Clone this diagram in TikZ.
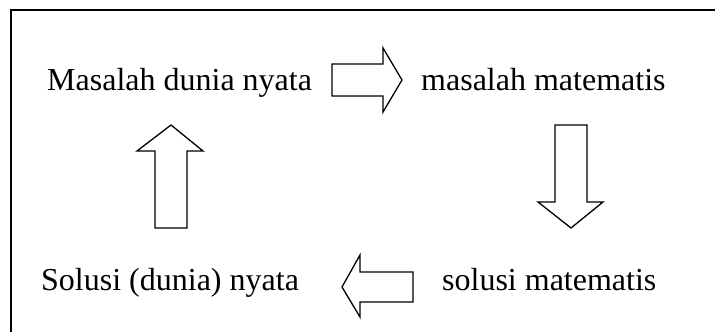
\documentclass[tikz,border=0pt]{standalone}
\usepackage{fontspec}
\setmainfont{Liberation Serif}
\begin{document}
\begin{tikzpicture}[x=1pt,y=-1pt,
  label/.style={anchor=base west,inner sep=0pt,font=\fontsize{32}{38}\selectfont},
  blockarrow/.style={draw=black,line width=1.3pt,line join=miter,fill=white}]
\useasboundingbox (0,0) rectangle (715,332);
\draw[line width=1.6pt] (715,10) -- (11,10) -- (11,332);
\node[label] (mdn) at (47,90) {Masalah dunia nyata};
\node[label] (mm) at (421,90) {masalah matematis};
\node[label] (sdn) at (41,290) {Solusi (dunia) nyata};
\node[label] (sm) at (442,290) {solusi matematis};
\draw[blockarrow] (332,64)--(383,64)--(383,48)--(402,80)--(383,112)--(383,96)--(332,96)--cycle;
\draw[blockarrow] (555,125)--(587,125)--(587,202)--(603,202)--(571,228)--(538,202)--(555,202)--cycle;
\draw[blockarrow] (155,228)--(155,151)--(137,151)--(171,125)--(203,151)--(187,151)--(187,228)--cycle;
\draw[blockarrow] (413,272)--(360,272)--(360,255)--(342,287)--(360,317)--(360,302)--(413,302)--cycle;
\end{tikzpicture}
\end{document}
